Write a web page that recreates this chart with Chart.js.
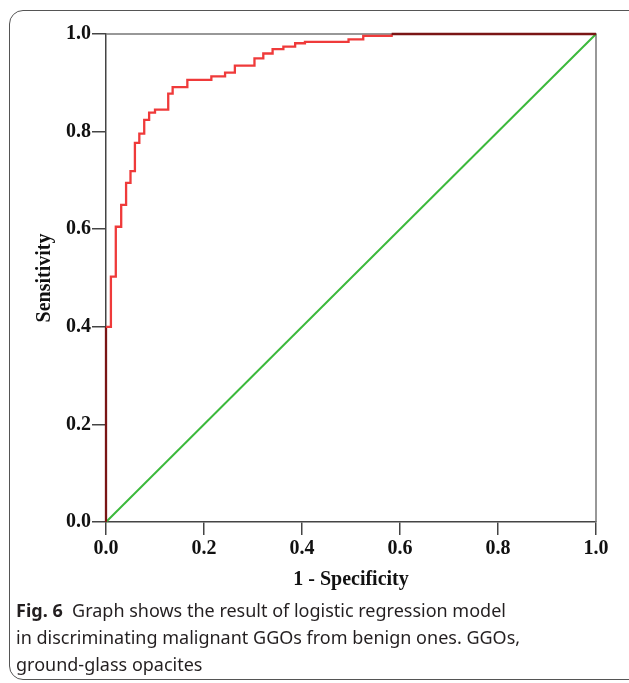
<!DOCTYPE html>
<html>
<head>
<meta charset="utf-8">
<script src="https://cdn.jsdelivr.net/npm/chart.js"></script>
<style>
  body { margin: 0; background: #fff; width: 629px; height: 683px; overflow: hidden; position: relative; }
  #frame { position: absolute; left: 9px; top: 10px; width: 650px; height: 670px;
           border: 1.5px solid #555; border-radius: 14px; box-sizing: border-box; }
  #roc { position: absolute; left: 0; top: 0; }
  #caption { position: absolute; left: 16px; top: 597px; width: 610px;
             font-family: "Noto Sans", sans-serif; font-size: 18px; line-height: 27px; color: #231f20; }
  #caption b { font-weight: 700; }
</style>
</head>
<body>
<div id="frame"></div>
<canvas id="roc" width="629" height="600"></canvas>
<div id="caption"><b>Fig. 6</b>&nbsp; Graph shows the result of logistic regression model<br>in discriminating malignant GGOs from benign ones. GGOs,<br>ground-glass opacites</div>
<script>
// courbe ROC (1 - spécificité, sensibilité)
const rocFpr = [0, 0, 0.010, 0.020, 0.031, 0.041, 0.050, 0.059, 0.068, 0.078, 0.088, 0.100,
                0.127, 0.136, 0.166, 0.215, 0.243, 0.263, 0.303, 0.321, 0.340, 0.362,
                0.386, 0.406, 0.495, 0.525, 0.583, 1.000];
const rocTpr = [0, 0.400, 0.503, 0.605, 0.650, 0.695, 0.719, 0.777, 0.796, 0.824, 0.839, 0.845,
                0.878, 0.891, 0.906, 0.913, 0.921, 0.935, 0.950, 0.960, 0.969, 0.974,
                0.981, 0.984, 0.989, 0.996, 1.000, 1.000];
// diagonale de référence
const refX = [0, 1];
const refY = [0, 1];
const tickValues = [0, 0.2, 0.4, 0.6, 0.8, 1.0];

const serif = '"Liberation Serif", "Times New Roman", serif';

// cadre gris haut / droite autour de la zone du graphe
const boxPlugin = {
  id: 'box',
  beforeDatasetsDraw(chart) {
    const a = chart.chartArea, ctx = chart.ctx;
    ctx.save();
    ctx.strokeStyle = '#777';
    ctx.lineWidth = 1.5;
    ctx.beginPath();
    ctx.moveTo(a.left, a.top);
    ctx.lineTo(a.right, a.top);
    ctx.lineTo(a.right, a.bottom);
    ctx.stroke();
    ctx.restore();
  }
};

const axisCommon = {
  type: 'linear',
  min: 0,
  max: 1,
  afterBuildTicks: s => { s.ticks = tickValues.map(v => ({ value: v })); },
  grid: { drawOnChartArea: false, drawTicks: true, tickLength: 14, tickColor: '#444', lineWidth: 1.5 },
  border: { display: true, color: '#444', width: 1.5 },
  ticks: { color: '#111', padding: 1, font: { family: serif, size: 20, weight: 'bold' },
           callback: v => Number(v).toFixed(1) }
};

new Chart(document.getElementById('roc'), {
  type: 'line',
  data: {
    datasets: [
      {
        label: 'ROC',
        data: rocFpr.map((x, i) => ({ x: x, y: rocTpr[i] })),
        borderColor: '#ef3a3a',
        borderWidth: 2.3,
        stepped: 'before',
        pointRadius: 0,
        clip: false,
        segment: {
          borderColor: c => ((c.p0.parsed.x === 0 && c.p1.parsed.x === 0) ||
                             (c.p0.parsed.y === 1 && c.p1.parsed.y === 1)) ? '#7a1515' : undefined
        }
      },
      {
        label: 'Reference',
        data: refX.map((x, i) => ({ x: x, y: refY[i] })),
        borderColor: '#3cb93c',
        borderWidth: 2,
        pointRadius: 0,
        clip: false
      }
    ]
  },
  options: {
    responsive: false,
    animation: false,
    devicePixelRatio: 1,
    layout: { padding: { top: 34, right: 33, left: 0, bottom: 0 } },
    plugins: { legend: { display: false }, tooltip: { enabled: false } },
    scales: {
      x: Object.assign({}, axisCommon, {
        grid: Object.assign({}, axisCommon.grid, { tickLength: 13 }),
        ticks: Object.assign({}, axisCommon.ticks, { padding: 2 }),
        afterFit: s => { s.height = 78; },
        title: { display: true, text: '1 - Specificity', color: '#111',
                 font: { family: serif, size: 20, weight: 'bold' }, padding: { top: 4, bottom: 8 } }
      }),
      y: Object.assign({}, axisCommon, {
        afterFit: s => { s.width = 106; },
        title: { display: true, text: 'Sensitivity', color: '#111',
                 font: { family: serif, size: 20, weight: 'bold' }, padding: { top: 33, bottom: 4 } }
      })
    }
  },
  plugins: [boxPlugin]
});
</script>
</body>
</html>
